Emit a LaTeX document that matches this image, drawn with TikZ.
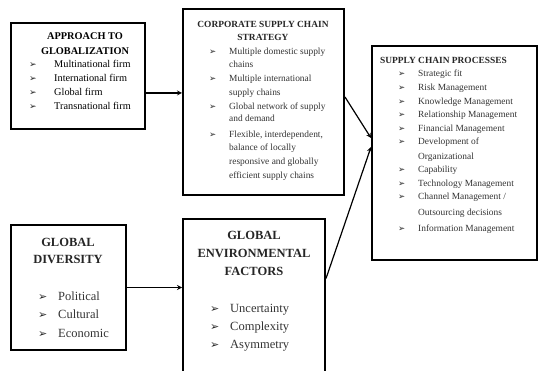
\documentclass[tikz,border=0pt]{standalone}
\usepackage{fontspec}
\setmainfont{Liberation Serif}
\newfontfamily\bulfont{DejaVu Sans}
\usetikzlibrary{shapes.geometric, arrows}
\newcommand{\bul}{{\bulfont\char"27A2}}
\tikzstyle{box} = [rectangle, draw=black, line width=2pt, inner sep=0]
\tikzstyle{arrow} = [line width=1.2pt,->,>=stealth]
\tikzstyle{head} = [anchor=base, inner sep=0]
\tikzstyle{item} = [anchor=base west, inner sep=0]
\tikzstyle{midfont} = [font=\fontsize{10.3}{12}\selectfont]
\tikzstyle{midbold} = [font=\fontsize{10.3}{12}\selectfont\bfseries]
\tikzstyle{smallfont} = [font=\fontsize{9.4}{11}\selectfont, black!80]
\tikzstyle{smallbold} = [font=\fontsize{9.4}{11}\selectfont\bfseries, black!85]
\tikzstyle{bigfont} = [font=\fontsize{12.5}{14}\selectfont, black!80]
\tikzstyle{bigbold} = [font=\fontsize{12.5}{14}\selectfont\bfseries, black!85]
\tikzstyle{bulnode} = [anchor=base west, inner sep=0, black!85]

\begin{document}
\begin{tikzpicture}[x=1pt,y=-1pt]
\useasboundingbox (0,0) rectangle (540,371);

% boxes
\node[box, minimum width=134pt, minimum height=106pt] (approach) at (78,76) {};
\node[box, minimum width=161pt, minimum height=186pt] (strategy) at (263.5,102) {};
\node[box, minimum width=165pt, minimum height=214pt] (processes) at (454.5,153) {};
\node[box, minimum width=115pt, minimum height=125pt] (diversity) at (68.5,287.5) {};
\node[box, minimum width=142pt, minimum height=161pt] (envfactors) at (254,299.5) {};

% approach to globalization
\node[head, midbold] at (85,39.5) {APPROACH TO};
\node[head, midbold] at (85,55) {GLOBALIZATION};
\foreach \y/\txt in {67.5/Multinational firm, 81.5/International firm, 95.5/Global firm, 109.5/Transnational firm}{
	\node[item, midfont] at (54,\y) {\txt};
	\node[bulnode, font=\fontsize{9}{10}\selectfont] at (29,\y) {\bul};
}

% corporate supply chain strategy
\node[head, smallbold] at (263,28) {CORPORATE SUPPLY CHAIN};
\node[head, smallbold] at (263,41) {STRATEGY};
\foreach \y/\txt in {55/Multiple domestic supply, 68/chains, 82/Multiple international, 96/supply chains, 110/Global network of supply, 122/and demand, 138/{Flexible, interdependent,}, 151/balance of locally, 165/responsive and globally, 179/efficient supply chains}{
	\node[item, smallfont] at (229,\y) {\txt};
}
\foreach \y in {55,82,110,138}{
	\node[bulnode, font=\fontsize{8.5}{10}\selectfont] at (209,\y) {\bul};
}

% supply chain processes
\node[item, smallbold] at (380,64) {SUPPLY CHAIN PROCESSES};
\foreach \y/\txt in {77/Strategic fit, 91/Risk Management, 105/Knowledge Management, 118/Relationship Management, 132/Financial Management, 145/Development of, 160/Organizational, 173/Capability, 187/Technology Management, 200/{Channel Management /}, 215/Outsourcing decisions, 232/Information Management}{
	\node[item, smallfont] at (418,\y) {\txt};
}
\foreach \y in {77,91,105,118,132,145,173,187,200,232}{
	\node[bulnode, font=\fontsize{8.5}{10}\selectfont] at (398,\y) {\bul};
}

% global diversity
\node[head, bigbold] at (68,246) {GLOBAL};
\node[head, bigbold] at (68,263) {DIVERSITY};
\foreach \y/\txt in {300/Political, 318/Cultural, 337/Economic}{
	\node[item, bigfont] at (58,\y) {\txt};
	\node[bulnode, font=\fontsize{11}{12}\selectfont] at (38,\y) {\bul};
}

% global environmental factors
\node[head, bigbold] at (254,239) {GLOBAL};
\node[head, bigbold] at (254,257) {ENVIRONMENTAL};
\node[head, bigbold] at (254,275) {FACTORS};
\foreach \y/\txt in {312/Uncertainty, 330/Complexity, 348/Asymmetry}{
	\node[item, bigfont] at (230,\y) {\txt};
	\node[bulnode, font=\fontsize{11}{12}\selectfont] at (210,\y) {\bul};
}

% connectors
\draw[arrow] ([yshift=-17pt]approach.east) -- ([yshift=-17pt]approach.east -| strategy.west);
\draw[arrow] (diversity.east) -- (diversity.east -| envfactors.west);
\draw[arrow] ([yshift=5pt]strategy.east) -- ([yshift=15pt]processes.west);
\draw[arrow] ([yshift=21pt]envfactors.east) -- ([yshift=6pt]processes.west);
\end{tikzpicture}
\end{document}
